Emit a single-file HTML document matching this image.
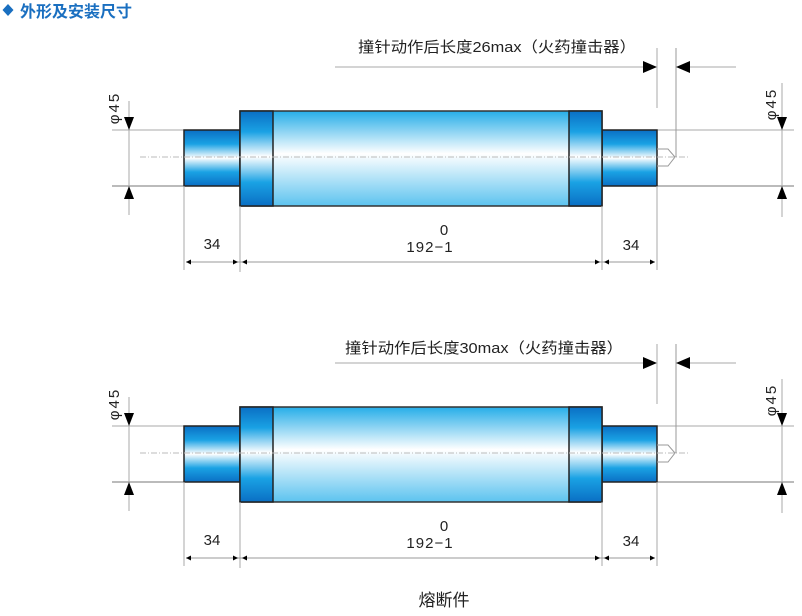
<!DOCTYPE html>
<html><head><meta charset="utf-8"><style>
html,body{margin:0;padding:0;background:#fff;width:802px;height:616px;overflow:hidden}
svg text{font-family:"Liberation Sans","Noto Sans CJK SC",sans-serif}
</style></head><body>
<svg width="802" height="616" viewBox="0 0 802 616" xmlns="http://www.w3.org/2000/svg">
<defs>
<linearGradient id="cap" x1="0" y1="0" x2="0" y2="1">
<stop offset="0" stop-color="#0a6fc4"/><stop offset="0.25" stop-color="#1aa2e4"/><stop offset="0.5" stop-color="#ffffff"/><stop offset="0.75" stop-color="#1aa2e4"/><stop offset="1" stop-color="#0a6fc4"/>
</linearGradient>
<linearGradient id="fl" x1="0" y1="0" x2="0" y2="1">
<stop offset="0" stop-color="#0a6fc4"/><stop offset="0.22" stop-color="#1aa2e4"/><stop offset="0.48" stop-color="#ffffff"/><stop offset="0.75" stop-color="#1aa2e4"/><stop offset="1" stop-color="#0a6fc4"/>
</linearGradient>
<linearGradient id="body" x1="0" y1="0" x2="0" y2="1">
<stop offset="0" stop-color="#25ade8"/><stop offset="0.45" stop-color="#ffffff"/><stop offset="1" stop-color="#5cc3ef"/>
</linearGradient>
<g id="d">
<line x1="112" y1="130" x2="184" y2="130" stroke="#aaa" stroke-width="1"/>
<line x1="112" y1="186" x2="184" y2="186" stroke="#777" stroke-width="1"/>
<line x1="657" y1="130" x2="794" y2="130" stroke="#aaa" stroke-width="1"/>
<line x1="657" y1="186" x2="794" y2="186" stroke="#777" stroke-width="1"/>
<line x1="129" y1="101" x2="129" y2="215" stroke="#aaa"/>
<line x1="782" y1="83" x2="782" y2="217" stroke="#aaa"/>
<polygon points="124,117 134,117 129,130" fill="#000"/>
<polygon points="124,199 134,199 129,186" fill="#000"/>
<polygon points="777,117 787,117 782,130" fill="#000"/>
<polygon points="777,199 787,199 782,186" fill="#000"/>
<text transform="translate(119,108) rotate(-90)" font-size="15" letter-spacing="2" text-anchor="middle" fill="#222">φ45</text>
<text transform="translate(776,104) rotate(-90)" font-size="15" letter-spacing="2" text-anchor="middle" fill="#222">φ45</text>
<rect x="184" y="130" width="56" height="56" fill="url(#cap)" stroke="#222" stroke-width="1.5"/>
<rect x="602" y="130" width="55" height="56" fill="url(#cap)" stroke="#222" stroke-width="1.5"/>
<rect x="240" y="111" width="362" height="95" fill="url(#body)" stroke="#333" stroke-width="1.5"/>
<rect x="240" y="111" width="33" height="95" fill="url(#fl)" stroke="#222" stroke-width="1.5"/>
<rect x="569" y="111" width="33" height="95" fill="url(#fl)" stroke="#222" stroke-width="1.5"/>
<line x1="140" y1="157" x2="688" y2="157" stroke="#bbb" stroke-width="1" stroke-dasharray="6,2,1,2"/>
<polyline points="657,149 668,149 675,157 668,166 657,166" fill="none" stroke="#999" stroke-width="1"/>
<line x1="184" y1="186" x2="184" y2="270" stroke="#aaa"/>
<line x1="240" y1="206" x2="240" y2="272" stroke="#aaa"/>
<line x1="602" y1="206" x2="602" y2="270" stroke="#aaa"/>
<line x1="657" y1="186" x2="657" y2="270" stroke="#aaa"/>
<line x1="186" y1="262" x2="655" y2="262" stroke="#999"/>
<polygon points="186,262 191,259.5 191,264.5" fill="#000"/>
<polygon points="238,262 233,259.5 233,264.5" fill="#000"/>
<polygon points="242,262 247,259.5 247,264.5" fill="#000"/>
<polygon points="600,262 595,259.5 595,264.5" fill="#000"/>
<polygon points="604,262 609,259.5 609,264.5" fill="#000"/>
<polygon points="655,262 650,259.5 650,264.5" fill="#000"/>
<text x="212" y="249" font-size="15" text-anchor="middle" fill="#222">34</text>
<text x="631" y="250" font-size="15" text-anchor="middle" fill="#222">34</text>
<text x="444" y="235" font-size="15" text-anchor="middle" fill="#222">0</text>
<text x="430" y="252" font-size="15" letter-spacing="1" text-anchor="middle" fill="#222">192−1</text>
<line x1="335" y1="67" x2="645" y2="67" stroke="#aaa"/>
<polygon points="643,61 657,67 643,73" fill="#000"/>
<line x1="657" y1="48" x2="657" y2="108" stroke="#aaa"/>
<line x1="676" y1="48" x2="676" y2="157" stroke="#999"/>
<polygon points="690,61 676,67 690,73" fill="#000"/>
<line x1="690" y1="67" x2="736" y2="67" stroke="#aaa"/>
</g>
</defs>
<polygon points="8,4 13.5,10 8,16 2.5,10" fill="#1a6fc0"/>
<text x="20" y="17" font-size="16" font-weight="bold" fill="#1a6fc0">外形及安装尺寸</text>
<use href="#d"/>
<use href="#d" transform="translate(0,296)"/>
<text x="358" y="52" font-size="15" fill="#222" textLength="278" lengthAdjust="spacingAndGlyphs">撞针动作后长度26max（火药撞击器）</text>
<text x="345" y="353" font-size="15" fill="#222" textLength="278" lengthAdjust="spacingAndGlyphs">撞针动作后长度30max（火药撞击器）</text>
<text x="444" y="606" font-size="17" text-anchor="middle" fill="#222">熔断件</text>
</svg>
</body></html>
